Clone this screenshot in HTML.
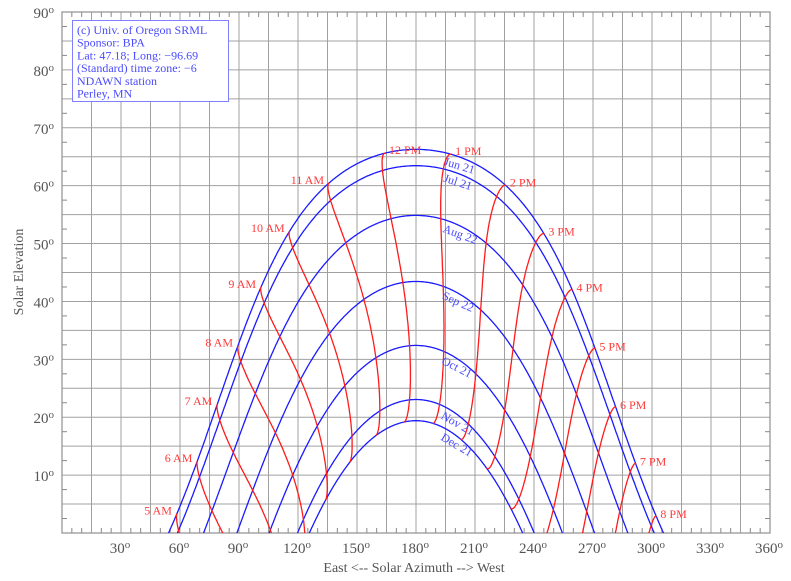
<!DOCTYPE html>
<html><head><meta charset="utf-8">
<style>
html,body{margin:0;padding:0;background:#fff;}
svg{display:block;}
text{font-family:"Liberation Serif",serif;}
</style></head>
<body>
<svg id="c" width="791" height="581" xmlns="http://www.w3.org/2000/svg"></svg>
<script>
(function(){
var svg=document.getElementById('c');
var X0=62,X1=770,Y0=533,Y1=12;
function fx(a){return X0+(X1-X0)*a/360;}
function fy(e){return Y0-(Y0-Y1)*e/90;}
var out='';
for(var a=0;a<=360;a+=15){out+='<line x1="'+fx(a)+'" y1="'+Y1+'" x2="'+fx(a)+'" y2="'+Y0+'" stroke="#a0a0a0" stroke-width="1"/>';}
for(var e=0;e<=90;e+=5){out+='<line x1="'+X0+'" y1="'+fy(e)+'" x2="'+X1+'" y2="'+fy(e)+'" stroke="#a0a0a0" stroke-width="1"/>';}
for(var a=5;a<360;a+=5){if(a%15==0)continue;
 out+='<line x1="'+fx(a)+'" y1="'+Y1+'" x2="'+fx(a)+'" y2="'+(Y1+5)+'" stroke="#888"/>';
 out+='<line x1="'+fx(a)+'" y1="'+Y0+'" x2="'+fx(a)+'" y2="'+(Y0-5)+'" stroke="#888"/>';}
for(var e=2.5;e<90;e+=5){
 out+='<line x1="'+X0+'" y1="'+fy(e)+'" x2="'+(X0+5)+'" y2="'+fy(e)+'" stroke="#888"/>';
 out+='<line x1="'+X1+'" y1="'+fy(e)+'" x2="'+(X1-5)+'" y2="'+fy(e)+'" stroke="#888"/>';}
out+='<rect x="'+X0+'" y="'+Y1+'" width="'+(X1-X0)+'" height="'+(Y0-Y1)+'" fill="none" stroke="#909090" stroke-width="1.2"/>';
for(var e=10;e<=90;e+=10){out+='<text x="54" y="'+(fy(e)+6)+'" text-anchor="end" font-size="15" fill="#555">'+e+'<tspan font-size="11" dy="-5">o</tspan></text>';}
for(var a=30;a<=360;a+=30){out+='<text x="'+(fx(a)-1)+'" y="553" text-anchor="middle" font-size="15" fill="#555">'+a+'<tspan font-size="11" dy="-5">o</tspan></text>';}
out+='<text x="414" y="572" text-anchor="middle" font-size="14" fill="#555">East &lt;-- Solar Azimuth --&gt; West</text>';
out+='<text transform="translate(23,272) rotate(-90)" text-anchor="middle" font-size="14" fill="#555">Solar Elevation</text>';
var lat=47.18*Math.PI/180, lon=-96.69, tz=-6;
function pos(n,hr){
 var g=2*Math.PI/365*(n-1+(hr-12)/24);
 var eq=229.18*(0.000075+0.001868*Math.cos(g)-0.032077*Math.sin(g)-0.014615*Math.cos(2*g)-0.040849*Math.sin(2*g));
 var d=0.006918-0.399912*Math.cos(g)+0.070257*Math.sin(g)-0.006758*Math.cos(2*g)+0.000907*Math.sin(2*g)-0.002697*Math.cos(3*g)+0.00148*Math.sin(3*g);
 var tst=hr*60+eq+4*lon-60*tz;
 var ha=(tst/4-180)*Math.PI/180;
 var cz=Math.sin(lat)*Math.sin(d)+Math.cos(lat)*Math.cos(d)*Math.cos(ha);
 var el=90-Math.acos(cz)*180/Math.PI;
 var az=Math.atan2(Math.sin(ha),Math.cos(ha)*Math.sin(lat)-Math.tan(d)*Math.cos(lat))*180/Math.PI+180;
 return [az,el];
}
out+='<defs><clipPath id="cp"><rect x="'+X0+'" y="'+Y1+'" width="'+(X1-X0)+'" height="'+(Y0-Y1)+'"/></clipPath></defs><g clip-path="url(#cp)">';
var dates=[[172,'Jun 21'],[202,'Jul 21'],[234,'Aug 22'],[265,'Sep 22'],[294,'Oct 21'],[325,'Nov 21'],[355,'Dec 21']];
var labs='';
dates.forEach(function(dd){
 var pts=[];
 for(var h=2;h<=22;h+=0.02){var p=pos(dd[0],h);if(p[1]>-3)pts.push(fx(p[0]).toFixed(1)+','+fy(p[1]).toFixed(1));}
 out+='<polyline points="'+pts.join(' ')+'" fill="none" stroke="#1a1aff" stroke-width="1.3"/>';
 var hb=12,best=1e9;
 for(var h=10;h<=15;h+=0.005){var p=pos(dd[0],h);var df=Math.abs(p[0]-194);if(df<best){best=df;hb=h;}}
 var p1=pos(dd[0],hb),p2=pos(dd[0],hb+0.3);
 var x1=fx(p1[0]),y1=fy(p1[1]),x2=fx(p2[0]),y2=fy(p2[1]);
 var ang=Math.atan2(y2-y1,x2-x1)*180/Math.PI;
 labs+='<text transform="translate('+x1.toFixed(1)+','+y1.toFixed(1)+') rotate('+ang.toFixed(1)+')" x="3" y="12" font-size="12" fill="#4a4aff">'+dd[1]+'</text>';
});
for(var hr=5;hr<=20;hr++){
 var pts=[];
 for(var n=172;n<=355;n+=1){var p=pos(n,hr);if(p[1]>-2)pts.push(fx(p[0]).toFixed(1)+','+fy(p[1]).toFixed(1));}
 out+='<polyline points="'+pts.join(' ')+'" fill="none" stroke="#ff1a1a" stroke-width="1.3"/>';
 var p=pos(172,hr);var x=fx(p[0]),y=fy(p[1]);
 var name=(hr<12?hr+' AM':(hr==12?'12 PM':(hr-12)+' PM'));
 if(hr<12) labs+='<text x="'+(x-5).toFixed(1)+'" y="'+(y+1).toFixed(1)+'" text-anchor="end" font-size="12" fill="#ff3a3a">'+name+'</text>';
 else labs+='<text x="'+(x+4).toFixed(1)+'" y="'+(y+1).toFixed(1)+'" font-size="12" fill="#ff3a3a">'+name+'</text>';
}
out+='</g>'+labs;
out+='<rect x="72.5" y="20.5" width="156" height="81" fill="#fff" stroke="#8080ff" stroke-width="1"/>';
var info=['(c) Univ. of Oregon SRML','Sponsor: BPA','Lat: 47.18; Long: -96.69','(Standard) time zone: -6','NDAWN station','Perley, MN'];
info.forEach(function(t,i){out+='<text x="77" y="'+(34+i*12.7)+'" font-size="12" fill="#4a4aff">'+t.replace(/-/g,'\u2212')+'</text>';});
svg.innerHTML=out;
})();
</script>
</body></html>
